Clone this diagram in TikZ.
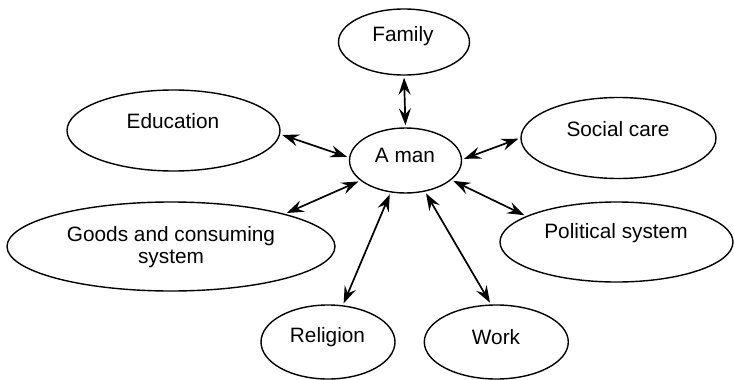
\documentclass[tikz,border=0pt]{standalone}
\usepackage{fontspec}
\setmainfont{Liberation Sans}
\usetikzlibrary{shapes.geometric,arrows.meta}
\begin{document}
\begin{tikzpicture}[x=1pt,y=-1pt,
  ell/.style={draw,ellipse,line width=1.4pt,inner sep=0pt},
  lbl/.style={font=\fontsize{20.8}{22}\selectfont,inner sep=0pt,align=center},
  link/.style={line width=1.7pt,{Stealth[length=17pt,width=12pt,inset=6pt]}-{Stealth[length=17pt,width=12pt,inset=6pt]},shorten <=2pt,shorten >=2pt}]
\useasboundingbox (0,0) rectangle (734,380);
% ellipses
\node[ell,minimum width=131pt,minimum height=66pt] (fam) at (404,42) {};
\node[ell,minimum width=112pt,minimum height=65pt] (man) at (405.5,160.5) {};
\node[ell,minimum width=213pt,minimum height=81pt] (edu) at (173.5,130.5) {};
\node[ell,minimum width=195pt,minimum height=81pt] (soc) at (618.5,138) {};
\node[ell,minimum width=328pt,minimum height=89pt] (goods) at (171,246.5) {};
\node[ell,minimum width=233pt,minimum height=80pt] (pol) at (616.5,242) {};
\node[ell,minimum width=134pt,minimum height=74pt] (rel) at (328,342) {};
\node[ell,minimum width=144pt,minimum height=74pt] (work) at (496.3,342) {};
% labels
\node[lbl] (famt) at (403,36.5) {Family};
\node[lbl] (mant) at (405,155.7) {A man};
\node[lbl] (edut) at (173,121.4) {Education};
\node[lbl] (soct) at (618,128.7) {Social care};
\node[lbl] (goodst) at (171,247) {Goods and consuming\\system};
\node[lbl] (polt) at (616,233) {Political system};
\node[lbl] (relt) at (327.5,337.4) {Religion};
\node[lbl] (workt) at (496,337) {Work};
% connectors
\draw[link] (fam.south) -- (man.north);
\draw[link] (edu.-2) -- (man.177);
\draw[link] (soc.180) -- (man.1);
\draw[link] (goods.16) -- (man.204);
\draw[link] (pol.164) -- (man.-23);
\draw[link] (rel.68) -- (man.245);
\draw[link] (work.98) -- (man.-58);
\end{tikzpicture}
\end{document}
